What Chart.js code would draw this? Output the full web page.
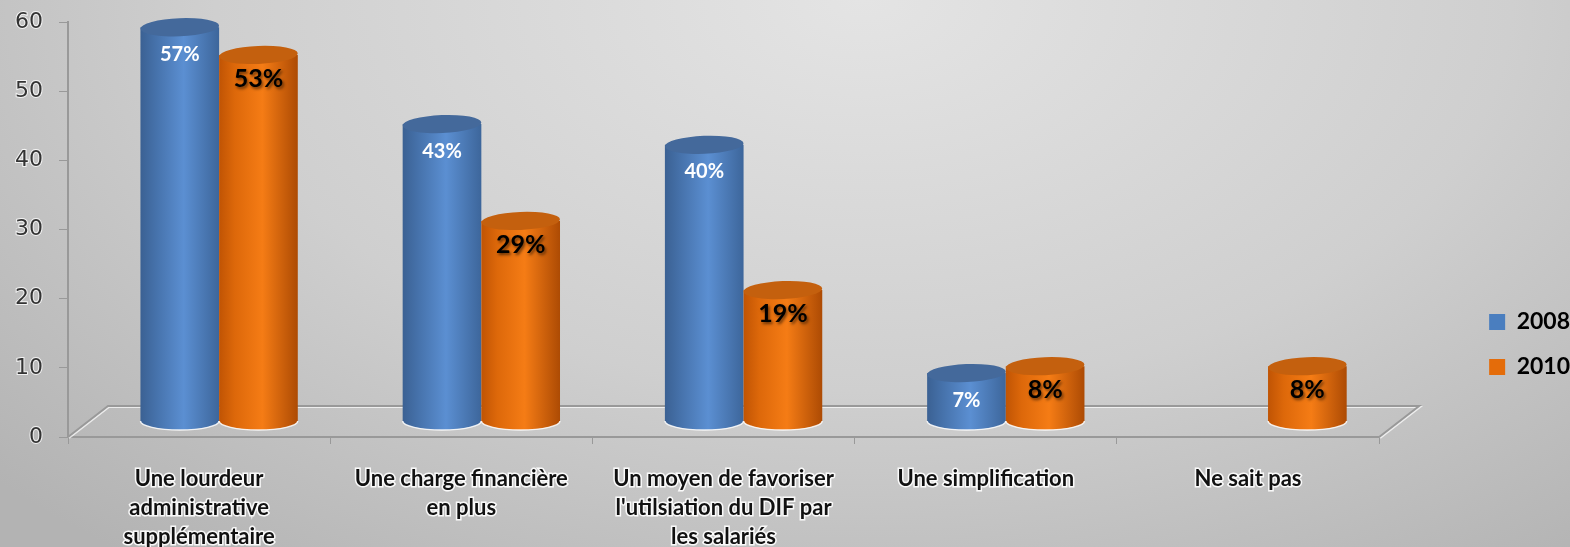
<!DOCTYPE html>
<html>
<head>
<meta charset="utf-8">
<script src="https://cdn.jsdelivr.net/npm/chart.js@4/dist/chart.umd.min.js"></script>
<style>
  html, body { margin: 0; padding: 0; }
  body {
    width: 1570px; height: 547px; overflow: hidden;
    background: radial-gradient(ellipse 75% 130% at 55% 0%, #e4e4e4 0%, #cfcfcf 55%, #b3b3b3 100%);
  }
  canvas { display: block; }
</style>
</head>
<body>
<canvas id="chart" width="1570" height="547"></canvas>
<script>
'use strict';

// ── Data ───────────────────────────────────────────────────────────────────
const categories = [
    ['Une lourdeur', 'administrative', 'supplémentaire'],
    ['Une charge financière', 'en plus'],
    ['Un moyen de favoriser', "l'utilsiation du DIF par", 'les salariés'],
    'Une simplification',
    'Ne sait pas',
];
const seriesNames = ['2008', '2010'];
const values2008 = [57, 43, 40, 7, null];
const values2010 = [53, 29, 19, 8, 8];
const yMin = 0, yMax = 60, yStep = 10;

// ── Styling ────────────────────────────────────────────────────────────────
const DEPTH_X = 40, DEPTH_Y = 31;   // 3D floor depth
const shades = {
    '2008': { legend: '#4a7ebf', edge: '#3b6193', mid: '#4672ab', light: '#5b8fd2', dark: '#3d669b', cap: '#44699b', label: '#ffffff', size: 20, shadow: false, dy: 27 },
    '2010': { legend: '#e46c0a', edge: '#c05404', mid: '#dd680a', light: '#f57c15', dark: '#ad4b04', cap: '#c4600e', label: '#000000', size: 25, shadow: true, dy: 24 },
};

/**
 * drawCylinder(ctx, cx, top, base, w, s)
 * Paints one cylinder: shaded body, rim highlight, flat cap.
 */
function drawCylinder(ctx, cx, top, base, w, s) {
    const rx = w / 2, ry = 9;
    ctx.save();
    const g = ctx.createLinearGradient(cx - rx, 0, cx + rx, 0);
    g.addColorStop(0, s.edge);
    g.addColorStop(0.2, s.mid);
    g.addColorStop(0.55, s.light);
    g.addColorStop(1, s.dark);
    ctx.beginPath();
    ctx.moveTo(cx - rx, top);
    ctx.lineTo(cx - rx, base);
    ctx.ellipse(cx, base, rx, ry, 0, Math.PI, 0, true);
    ctx.lineTo(cx + rx, top);
    ctx.closePath();
    ctx.fillStyle = g;
    ctx.fill();

    ctx.beginPath();
    ctx.ellipse(cx, base, rx, ry, 0, Math.PI, 0, true);
    ctx.strokeStyle = 'rgba(255,255,255,0.85)';
    ctx.lineWidth = 1.5;
    ctx.stroke();

    ctx.beginPath();
    ctx.ellipse(cx, top, rx, ry, -0.04, 0, Math.PI * 2);
    ctx.fillStyle = s.cap;
    ctx.fill();
    ctx.restore();
}

// ── Plugin: 3D floor, cylinders and value labels ───────────────────────────
const cylinderPlugin = {
    id: 'cylinders',
    beforeDatasetsDraw(chart) {
        const { ctx, chartArea: { left, right, bottom } } = chart;
        ctx.save();
        ctx.lineWidth = 2;
        ctx.strokeStyle = 'rgba(255,255,255,0.7)';
        ctx.beginPath();
        ctx.moveTo(left + 1, bottom + 1);
        ctx.lineTo(left + DEPTH_X + 1, bottom - DEPTH_Y + 1);
        ctx.lineTo(right + DEPTH_X + 1, bottom - DEPTH_Y + 1);
        ctx.lineTo(right + 1, bottom + 1);
        ctx.stroke();
        ctx.strokeStyle = '#999999';
        ctx.beginPath();
        ctx.moveTo(left, bottom);
        ctx.lineTo(left + DEPTH_X, bottom - DEPTH_Y);
        ctx.lineTo(right + DEPTH_X, bottom - DEPTH_Y);
        ctx.lineTo(right, bottom);
        ctx.stroke();
        ctx.restore();
    },
    beforeDatasetDraw() {
        return false; // bars are painted as cylinders below
    },
    afterDatasetsDraw(chart) {
        const ctx = chart.ctx;
        const labels = [];
        chart.data.datasets.forEach((ds, di) => {
            const s = shades[ds.label];
            chart.getDatasetMeta(di).data.forEach((bar, i) => {
                const v = ds.data[i];
                if (v == null) return;
                const { x, y, base, width } = bar.getProps(['x', 'y', 'base', 'width'], true);
                const cx = x + DEPTH_X / 2;
                const top = y - DEPTH_Y / 2;
                drawCylinder(ctx, cx, top, base - DEPTH_Y / 2, width, s);
                labels.push({ cx, top, v, s });
            });
        });
        labels.forEach(({ cx, top, v, s }) => {
            ctx.save();
            ctx.font = `bold ${s.size}px Lato`;
            ctx.textAlign = 'center';
            ctx.textBaseline = 'middle';
            if (s.shadow) {
                ctx.shadowColor = 'rgba(0,0,0,0.55)';
                ctx.shadowBlur = 3;
                ctx.shadowOffsetX = 1.5;
                ctx.shadowOffsetY = 2;
            }
            ctx.fillStyle = s.label;
            ctx.fillText(v + '%', cx, top + s.dy);
            ctx.restore();
        });
    },
};

new Chart(document.getElementById('chart'), {
    type: 'bar',
    data: {
        labels: categories,
        datasets: [
            { label: seriesNames[0], data: values2008, backgroundColor: shades['2008'].legend, borderWidth: 0 },
            { label: seriesNames[1], data: values2010, backgroundColor: shades['2010'].legend, borderWidth: 0 },
        ],
    },
    options: {
        responsive: false,
        animation: false,
        categoryPercentage: 0.6,
        barPercentage: 1,
        layout: { padding: { top: 22, right: -10, bottom: 0, left: 0 } },
        scales: {
            x: {
                grid: { drawOnChartArea: false, tickLength: 7, color: '#999999', offset: true },
                border: { color: '#999999', width: 2 },
                ticks: {
                    color: '#111111',
                    font: { family: 'Lato', size: 22, weight: 'bold', lineHeight: 1.3 },
                    textStrokeColor: 'rgba(255,255,255,0.9)',
                    textStrokeWidth: 3,
                    padding: 21,
                    maxRotation: 0,
                    autoSkip: false,
                },
                afterFit: s => { s.height = 110; },
            },
            y: {
                min: yMin,
                max: yMax,
                grid: { drawOnChartArea: false, tickLength: 9, color: '#999999' },
                border: { color: '#999999', width: 2 },
                ticks: {
                    stepSize: yStep,
                    color: '#333333',
                    font: { family: 'DejaVu Sans', size: 22, lineHeight: 0.5 },
                    textStrokeColor: 'rgba(255,255,255,0.8)',
                    textStrokeWidth: 2,
                    padding: 16,
                },
                afterFit: s => { s.width = 68; },
            },
            gap: {
                position: 'right',
                display: true,
                grid: { display: false },
                border: { display: false },
                ticks: { display: false },
                afterFit: s => { s.width = 88; },
            },
        },
        plugins: {
            legend: {
                position: 'right',
                align: 'start',
                title: { display: true, text: '', padding: { top: 252, bottom: 0 } },
                labels: {
                    boxWidth: 16,
                    boxHeight: 16,
                    padding: 22,
                    color: '#000000',
                    font: { family: 'Lato', size: 23, weight: 'bold' },
                },
            },
            tooltip: { enabled: false },
        },
    },
    plugins: [cylinderPlugin],
});
</script>
</body>
</html>
